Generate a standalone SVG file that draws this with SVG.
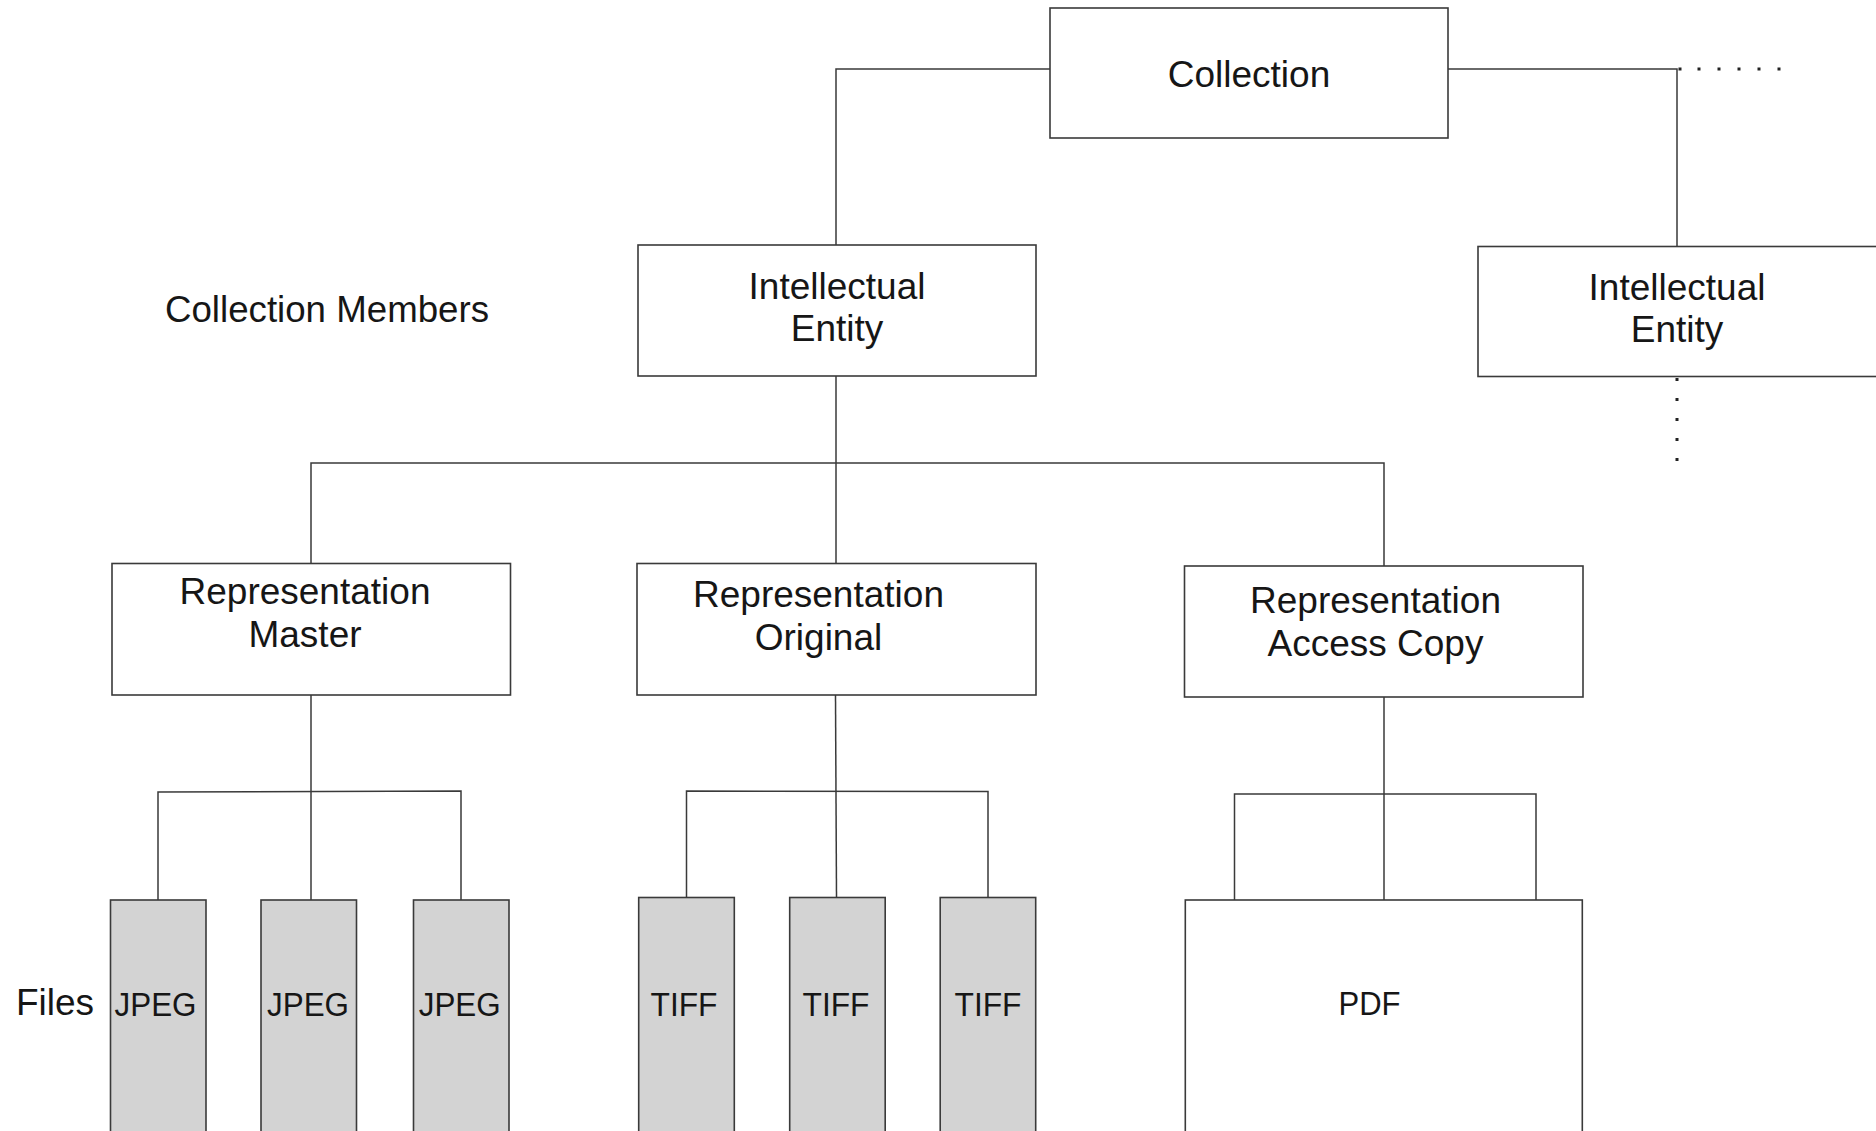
<svg xmlns="http://www.w3.org/2000/svg" width="1876" height="1131" viewBox="0 0 1876 1131">
  <style>
    .box { fill: #ffffff; stroke: #3a3a3a; stroke-width: 1.6; }
    .file { fill: #d3d3d3; stroke: #3a3a3a; stroke-width: 1.6; }
    .wire { fill: none; stroke: #3a3a3a; stroke-width: 1.5; }
    .lbl { font-family: "Liberation Sans", Arial, sans-serif; font-size: 37px; fill: #161616; text-anchor: middle; }
    .ftxt { font-family: "Liberation Sans", Arial, sans-serif; font-size: 34px; fill: #161616; text-anchor: middle; }
    .side { font-family: "Liberation Sans", Arial, sans-serif; font-size: 37px; fill: #161616; }
    .dot { fill: #222222; }
  </style>
  <rect x="0" y="0" width="1876" height="1131" fill="#ffffff"/>

  <!-- tree connectors -->
  <g id="connectors">
    <polyline class="wire" points="1050,69 836,69 836,245"/>
    <polyline class="wire" points="1448,69 1677,69 1677,246.5"/>
    <line class="wire" x1="836" y1="376" x2="836" y2="563.5"/>
    <polyline class="wire" points="311,563.5 311,463 1384,463 1384,566"/>
    <line class="wire" x1="311" y1="695" x2="311" y2="900"/>
    <polyline class="wire" points="158,900 158,792 461,791 461,900"/>
    <line class="wire" x1="835.5" y1="695" x2="836.5" y2="897.5"/>
    <polyline class="wire" points="686.5,897.5 686.5,791 988,791.5 988,897.5"/>
    <line class="wire" x1="1384" y1="697" x2="1384" y2="900"/>
    <polyline class="wire" points="1234.5,900 1234.5,794 1536,794 1536,900"/>
    <!-- continuation dots -->
    <g id="more-members">
      <rect class="dot" x="1678.5" y="67.5" width="3" height="3"/>
      <rect class="dot" x="1697.5" y="67.5" width="3" height="3"/>
      <rect class="dot" x="1717.5" y="67.5" width="3" height="3"/>
      <rect class="dot" x="1737.5" y="67.5" width="3" height="3"/>
      <rect class="dot" x="1757.5" y="67.5" width="3" height="3"/>
      <rect class="dot" x="1777.5" y="67.5" width="3" height="3"/>
    </g>
    <g id="more-representations">
      <rect class="dot" x="1675.5" y="378" width="3" height="3"/>
      <rect class="dot" x="1675.5" y="398" width="3" height="3"/>
      <rect class="dot" x="1675.5" y="418" width="3" height="3"/>
      <rect class="dot" x="1675.5" y="438" width="3" height="3"/>
      <rect class="dot" x="1675.5" y="458" width="3" height="3"/>
    </g>
  </g>

  <!-- side labels -->
  <text class="side" x="165" y="322" textLength="324" lengthAdjust="spacingAndGlyphs">Collection Members</text>
  <text class="side" x="16" y="1015">Files</text>

  <g id="collection">
    <rect class="box" x="1050" y="8" width="398" height="130"/>
    <text class="lbl" x="1249" y="87">Collection</text>
  </g>

  <g id="entity-1">
    <rect class="box" x="638" y="245" width="398" height="131"/>
    <text class="lbl" x="837" y="299">Intellectual</text>
    <text class="lbl" x="837" y="341">Entity</text>
  </g>

  <g id="entity-2">
    <rect class="box" x="1478" y="246.5" width="402" height="130"/>
    <text class="lbl" x="1677" y="300">Intellectual</text>
    <text class="lbl" x="1677" y="342">Entity</text>
  </g>

  <g id="rep-master">
    <rect class="box" x="112" y="563.5" width="398.5" height="131.5"/>
    <text class="lbl" x="305" y="604">Representation</text>
    <text class="lbl" x="305" y="647">Master</text>
  </g>

  <g id="rep-original">
    <rect class="box" x="637" y="563.5" width="399" height="131.5"/>
    <text class="lbl" x="818.5" y="607">Representation</text>
    <text class="lbl" x="818.5" y="650">Original</text>
  </g>

  <g id="rep-access">
    <rect class="box" x="1184.5" y="566" width="398.5" height="131"/>
    <text class="lbl" x="1375.5" y="613">Representation</text>
    <text class="lbl" x="1375.5" y="656">Access Copy</text>
  </g>

  <g id="jpeg-1">
    <rect class="file" x="110.5" y="900" width="95.5" height="240"/>
    <text class="ftxt" x="155.5" y="1015.5" textLength="82" lengthAdjust="spacingAndGlyphs">JPEG</text>
  </g>
  <g id="jpeg-2">
    <rect class="file" x="261" y="900" width="95.5" height="240"/>
    <text class="ftxt" x="308" y="1015.5" textLength="82" lengthAdjust="spacingAndGlyphs">JPEG</text>
  </g>
  <g id="jpeg-3">
    <rect class="file" x="413.5" y="900" width="95.5" height="240"/>
    <text class="ftxt" x="459.7" y="1015.5" textLength="82" lengthAdjust="spacingAndGlyphs">JPEG</text>
  </g>

  <g id="tiff-1">
    <rect class="file" x="638.7" y="897.5" width="95.6" height="240"/>
    <text class="ftxt" x="684" y="1016" textLength="67" lengthAdjust="spacingAndGlyphs">TIFF</text>
  </g>
  <g id="tiff-2">
    <rect class="file" x="789.7" y="897.5" width="95.5" height="240"/>
    <text class="ftxt" x="836" y="1016" textLength="67" lengthAdjust="spacingAndGlyphs">TIFF</text>
  </g>
  <g id="tiff-3">
    <rect class="file" x="940.2" y="897.5" width="95.5" height="240"/>
    <text class="ftxt" x="988" y="1016" textLength="67" lengthAdjust="spacingAndGlyphs">TIFF</text>
  </g>

  <g id="pdf">
    <rect class="box" x="1185.3" y="900" width="397" height="240"/>
    <text class="ftxt" x="1369.5" y="1015" textLength="62" lengthAdjust="spacingAndGlyphs">PDF</text>
  </g>
</svg>
